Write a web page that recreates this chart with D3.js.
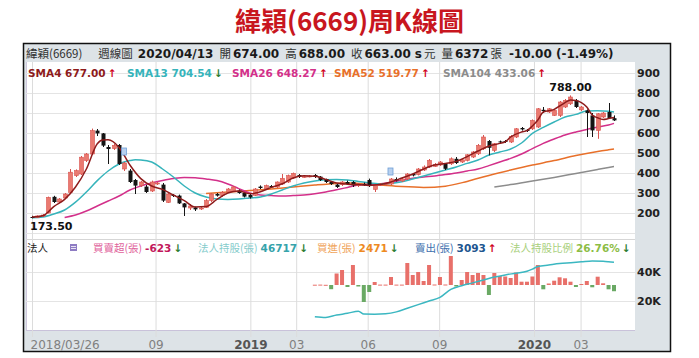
<!DOCTYPE html>
<html>
<head>
<meta charset="utf-8">
<script src="https://cdn.jsdelivr.net/npm/d3@7"></script>
<style>
  body { margin: 0; background: #fff; }
  svg { display: block; }
</style>
</head>
<body>
<div class="container"></div>
<script>
// Size of frame
const width = 699;
const height = 358;

// Weekly candles, first week 2018/03/26
const startDate = new Date(2018, 2, 26);
const open = [
  180, 178, 185, 200, 281, 255, 275, 303, 387, 395,
  462, 495, 612, 598, 530, 522, 540, 420, 412, 365,
  338, 332, 310, 345, 342, 253, 290, 287, 248, 225,
  228, 220, 228, 262, 295, 287, 305, 308, 312, 300,
  290, 288, 332, 320, 335, 330, 345, 355, 375, 390,
  380, 382, 390, 382, 370, 357, 342, 342, 355, 355,
  338, 345, 365, 318, 338, 342, 345, 370, 360, 370,
  395, 392, 415, 430, 433, 440, 446, 446, 471, 455,
  463, 480, 496, 521, 560, 513, 558, 560, 555, 580,
  625, 616, 621, 630, 716, 705, 688, 688, 730, 746,
  763, 716, 713, 688, 613, 680, 705, 674
];
const high = [
  186, 188, 195, 282, 286, 275, 300, 420, 418, 485,
  500, 622, 620, 600, 540, 545, 545, 455, 420, 370,
  360, 340, 362, 355, 350, 300, 295, 292, 250, 245,
  232, 235, 270, 300, 300, 310, 325, 335, 318, 305,
  295, 325, 338, 342, 340, 358, 395, 392, 402, 395,
  388, 390, 395, 385, 372, 360, 345, 360, 362, 360,
  350, 352, 372, 345, 350, 350, 375, 378, 378, 400,
  400, 425, 438, 470, 450, 460, 450, 478, 480, 470,
  495, 510, 545, 590, 565, 550, 562, 565, 590, 625,
  630, 620, 668, 725, 730, 725, 718, 760, 770, 788,
  770, 735, 718, 700, 700, 705, 750, 688
];
const low = [
  173.5, 175, 180, 198, 250, 250, 270, 300, 380, 390,
  455, 490, 585, 530, 445, 515, 440, 410, 350, 295,
  330, 300, 305, 340, 255, 250, 280, 245, 185, 215,
  210, 215, 225, 255, 282, 280, 300, 305, 296, 278,
  272, 285, 320, 318, 325, 325, 340, 350, 370, 375,
  376, 378, 375, 360, 350, 340, 325, 335, 340, 330,
  330, 335, 330, 305, 335, 336, 340, 358, 355, 365,
  383, 388, 410, 425, 430, 435, 415, 440, 445, 450,
  458, 475, 490, 515, 488, 505, 545, 550, 550, 575,
  612, 605, 615, 625, 700, 700, 685, 680, 725, 740,
  725, 710, 580, 580, 571, 675, 670, 660
];
const close = [
  178, 185, 190, 278, 255, 270, 295, 404, 412, 479,
  495, 612, 598, 537, 520, 538, 445, 450, 355, 337,
  355, 305, 355, 350, 262, 295, 285, 248, 228, 235,
  218, 225, 262, 295, 287, 303, 320, 330, 300, 282,
  278, 320, 325, 337, 328, 355, 373, 387, 398, 380,
  383, 385, 380, 365, 355, 345, 330, 355, 345, 338,
  345, 340, 335, 340, 345, 348, 370, 362, 370, 395,
  388, 420, 430, 463, 443, 455, 421, 471, 450, 466,
  491, 505, 538, 580, 526, 546, 553, 556, 583, 621,
  618, 610, 663, 721, 710, 721, 713, 755, 763, 780,
  730, 730, 700, 613, 696, 700, 673, 663
];
const lastVolume = 6372;

// Moving averages: [week, value]
const sma4 = [
  [0, 180], [2, 186], [4, 232], [6, 268], [8, 330], [10, 420], [12, 546], [13, 565],
  [14, 566], [16, 528], [18, 440], [20, 372], [22, 335], [24, 318], [26, 290], [28, 262],
  [30, 230], [32, 232], [34, 268], [36, 300], [38, 310], [40, 296], [42, 306], [44, 328],
  [46, 346], [48, 375], [50, 386], [52, 384], [54, 368], [56, 350], [58, 344], [60, 342],
  [62, 338], [64, 342], [66, 355], [68, 375], [70, 395], [72, 420], [74, 440], [76, 448],
  [78, 458], [80, 482], [82, 510], [84, 535], [86, 548], [87, 556], [88, 580], [90, 605],
  [91, 612], [92, 635], [93, 665], [94, 705], [96, 718], [97, 735], [98, 752], [99, 765],
  [100, 762], [101, 752], [102, 730], [103, 690], [104, 676], [105, 668], [106, 672], [107, 677.00]
];
const sma13 = [
  [0, 176], [2, 180], [4, 195], [6, 215], [8, 254], [10, 305], [12, 362], [14, 410],
  [16, 445], [18, 462], [19, 466], [20, 465], [22, 455], [24, 420], [26, 380], [28, 335],
  [30, 300], [32, 280], [34, 270], [36, 268], [38, 270], [40, 275], [42, 280], [44, 295],
  [46, 315], [48, 335], [50, 350], [52, 360], [54, 366], [56, 368], [58, 365], [60, 358],
  [62, 350], [64, 346], [66, 348], [68, 356], [70, 370], [72, 385], [74, 400], [76, 415],
  [78, 430], [80, 448], [82, 465], [84, 490], [86, 505], [88, 520], [90, 550], [92, 598],
  [94, 628], [96, 655], [98, 680], [100, 693], [102, 710], [104, 711], [106, 709], [107, 704.54]
];
const sma26 = [
  [6, 178], [8, 190], [10, 210], [12, 235], [14, 260], [16, 285], [18, 315], [20, 335],
  [22, 350], [24, 362], [26, 372], [28, 378], [30, 376], [32, 370], [34, 362], [36, 345],
  [38, 322], [40, 300], [42, 290], [44, 287], [46, 285], [48, 287], [50, 290], [52, 296],
  [54, 305], [56, 316], [58, 328], [60, 340], [62, 343], [64, 346], [66, 352], [68, 365],
  [70, 374], [72, 380], [74, 385], [76, 392], [78, 400], [80, 410], [82, 420], [84, 437],
  [86, 455], [88, 473], [90, 495], [92, 522], [94, 548], [96, 570], [98, 590], [100, 605],
  [102, 618], [104, 630], [106, 640], [107, 648.27]
];
const sma52 = [
  [32, 298], [36, 305], [40, 312], [44, 320], [48, 330], [52, 340], [56, 348], [58, 350],
  [60, 348], [64, 340], [68, 332], [72, 328], [76, 334], [80, 358], [84, 388], [88, 415],
  [92, 440], [96, 462], [100, 488], [104, 508], [106, 516], [107, 519.77]
];
const sma104 = [
  [85, 330], [88, 342], [92, 360], [96, 378], [100, 398], [104, 418], [106, 428], [107, 433.06]
];
const smaNames = ['SMA4', 'SMA13', 'SMA26', 'SMA52', 'SMA104'];

// Event markers on the price panel
const markerWeeks = [17, 66];
const markerPrices = [505, 405];

// Institutional investors (from week 52)
const netFirstWeek = 52;
const netBuy = [
  30, 40, 20, -420, 1150, 1500, -200, 2000, -150, -1700,
  -700, 300, 40, 40, 800, 40, 40, 2200, 1000, 1300,
  400, 2000, 50, 800, 50, 2900, -150, 500, 1300, 1000,
  1200, 1000, -1000, 1200, 900, 850, 700, 1250, 330, 330,
  850, 2000, -430, 150, 430, 770, 670, 330, -200, 100,
  400, -230, 830, 170, -430, -623
];
const holdings = [
  [52, 9200], [54, 8700], [56, 10300], [58, 11500], [60, 13000], [61, 11000], [63, 10900],
  [65, 11200], [67, 12500], [69, 15000], [71, 17500], [73, 20000], [75, 22500], [77, 28000],
  [79, 30500], [81, 32500], [83, 34500], [85, 36500], [87, 38000], [89, 39200], [91, 40500],
  [92, 42000], [93, 43800], [95, 44800], [97, 45800], [99, 46400], [101, 47000], [103, 47600],
  [105, 47400], [106, 47100], [107, 46717]
];
const buyQty = 2471;
const sellQty = 3093;
const holdRatio = 26.76;

// Axis ticks
const priceTicks = [100, 200, 300, 400, 500, 600, 700, 800, 900];
const lowerTicks = [20000, 40000];
const lowerLabels = ['20K', '40K'];
const tickDates = [
  new Date(2018, 2, 26), new Date(2018, 8, 1), new Date(2019, 0, 1), new Date(2019, 2, 1),
  new Date(2019, 5, 1), new Date(2019, 8, 1), new Date(2020, 0, 1), new Date(2020, 2, 1)
];
const tickLabels = ['2018/03/26', '09', '2019', '03', '06', '09', '2020', '03'];

// Colours
const upColor = '#ea7a70';
const upStroke = '#d9534f';
const downColor = '#141414';
const smaColors = ['#8e1b1b', '#36b4bb', '#d3308a', '#e8702a', '#8c8c8c'];
const numFont = '"DejaVu Sans", Verdana, sans-serif';
const cjkFont = '"Noto Sans CJK TC", "Noto Sans CJK SC", sans-serif';

const n = close.length - 1;
const weeks = open.map((d, i) => d3.timeDay.offset(startDate, i * 7));
const fmt = v => v.toFixed(2);

const x = d3.scaleTime().domain([weeks[0], weeks[n]]).range([32, 614]);
const yPrice = d3.scaleLinear().domain([100, 900]).range([233, 73]);
const yHold = d3.scaleLinear().domain([0, 40000]).range([330, 272]);
const yNet = d3.scaleLinear().domain([0, 1000]).range([285, 275]);

function arrow(cur, prev) {
  return cur >= prev ? { t: '↑', c: '#d0021b' } : { t: '↓', c: '#2e7d32' };
}

function draw() {
  const svg = d3.select('.container')
    .append('svg')
    .attr('width', width)
    .attr('height', height);

  // Title
  svg.append('text')
    .attr('x', width / 2)
    .attr('y', 31)
    .attr('text-anchor', 'middle')
    .attr('font-family', cjkFont)
    .attr('font-weight', 700)
    .attr('font-size', 26)
    .attr('fill', '#c8161e')
    .text('緯穎(6669)周K線圖');

  // Frame and plot area
  svg.append('rect')
    .attr('x', 23.5).attr('y', 43.5)
    .attr('width', 647).attr('height', 308)
    .attr('fill', '#dde3e7')
    .attr('stroke', '#111')
    .attr('stroke-width', 1.5);
  svg.append('rect')
    .attr('x', 26).attr('y', 62)
    .attr('width', 609).attr('height', 268)
    .attr('fill', '#fff');
  svg.append('line')
    .attr('x1', 26.5).attr('x2', 26.5).attr('y1', 62).attr('y2', 330)
    .attr('stroke', '#cfc8de');
  svg.append('line')
    .attr('x1', 26).attr('x2', 635).attr('y1', 330.5).attr('y2', 330.5)
    .attr('stroke', '#c9c2da');
  svg.append('line')
    .attr('x1', 26).attr('x2', 635).attr('y1', 239.5).attr('y2', 239.5)
    .attr('stroke', '#d6d6d6');

  // Horizontal grid
  svg.append('g')
    .selectAll('line')
    .data(priceTicks)
    .enter()
    .append('line')
    .attr('x1', 26).attr('x2', 635)
    .attr('y1', d => Math.round(yPrice(d)) + 0.5)
    .attr('y2', d => Math.round(yPrice(d)) + 0.5)
    .attr('stroke', '#e4e4e4');
  svg.append('g')
    .selectAll('line')
    .data(lowerTicks)
    .enter()
    .append('line')
    .attr('x1', 26).attr('x2', 635)
    .attr('y1', d => Math.round(yHold(d)) + 0.5)
    .attr('y2', d => Math.round(yHold(d)) + 0.5)
    .attr('stroke', '#e4e4e4');

  // Time axis with vertical grid
  const xAxis = d3.axisBottom(x)
    .tickValues(tickDates)
    .tickSizeInner(-275)
    .tickSizeOuter(0)
    .tickPadding(3)
    .tickFormat((d, i) => tickLabels[i]);
  const gx = svg.append('g')
    .attr('transform', 'translate(0,337)')
    .call(xAxis);
  gx.select('.domain').remove();
  gx.selectAll('.tick line').attr('stroke', '#dcdcdc');
  gx.selectAll('.tick text')
    .attr('font-family', numFont)
    .attr('font-size', 12)
    .attr('fill', (d, i) => (i === 2 || i === 6) ? '#555' : '#808080')
    .attr('font-weight', (d, i) => (i === 2 || i === 6) ? 700 : 400)
    .attr('text-anchor', (d, i) => i === 0 ? 'start' : 'middle')
    .attr('dx', (d, i) => i === 0 ? -2 : 0);

  // Right axes
  svg.append('g')
    .selectAll('text')
    .data(priceTicks.filter(d => d >= 200))
    .enter()
    .append('text')
    .attr('x', 637)
    .attr('y', d => yPrice(d) + 4)
    .attr('font-family', numFont)
    .attr('font-weight', 700)
    .attr('font-size', 11)
    .attr('fill', '#222')
    .text(d => d);
  svg.append('g')
    .selectAll('text')
    .data(lowerTicks)
    .enter()
    .append('text')
    .attr('x', 637)
    .attr('y', d => yHold(d) + 4)
    .attr('font-family', numFont)
    .attr('font-weight', 700)
    .attr('font-size', 11)
    .attr('fill', '#222')
    .text((d, i) => lowerLabels[i]);

  // Net buy bars
  svg.append('g')
    .selectAll('rect')
    .data(netBuy)
    .enter()
    .append('rect')
    .attr('x', (d, i) => x(weeks[i + netFirstWeek]) - 2)
    .attr('width', 4)
    .attr('y', d => yNet(Math.max(0, d)))
    .attr('height', d => Math.max(1, Math.abs(yNet(d) - yNet(0))))
    .attr('fill', d => d >= 0 ? '#e8706a' : '#6aa964');

  // Holdings line
  const holdLine = d3.line()
    .x(d => x(weeks[d[0]]))
    .y(d => yHold(d[1]))
    .curve(d3.curveMonotoneX);
  svg.append('path')
    .attr('d', holdLine(holdings))
    .attr('fill', 'none')
    .attr('stroke', '#3bb7c1')
    .attr('stroke-width', 1.5);

  // Moving averages (slow ones under candles)
  const smaLine = d3.line()
    .x(d => x(weeks[d[0]]))
    .y(d => yPrice(d[1]))
    .curve(d3.curveMonotoneX);
  const smas = [sma4, sma13, sma26, sma52, sma104];
  [4, 3, 2, 1].forEach(k => {
    svg.append('path')
      .attr('d', smaLine(smas[k]))
      .attr('fill', 'none')
      .attr('stroke', smaColors[k])
      .attr('stroke-width', 1.5);
  });

  // Candles
  const candles = svg.append('g')
    .selectAll('g')
    .data(weeks)
    .enter()
    .append('g');
  candles.append('line')
    .attr('x1', d => Math.round(x(d)) + 0.5)
    .attr('x2', d => Math.round(x(d)) + 0.5)
    .attr('y1', (d, i) => yPrice(high[i]))
    .attr('y2', (d, i) => yPrice(low[i]))
    .attr('stroke', (d, i) => close[i] >= open[i] ? upStroke : downColor);
  candles.append('rect')
    .attr('x', d => Math.round(x(d)) - 1.5)
    .attr('width', 4)
    .attr('y', (d, i) => yPrice(Math.max(open[i], close[i])))
    .attr('height', (d, i) => Math.max(1, Math.abs(yPrice(open[i]) - yPrice(close[i]))))
    .attr('fill', (d, i) => close[i] >= open[i] ? upColor : downColor)
    .attr('stroke', (d, i) => close[i] >= open[i] ? upStroke : 'none')
    .attr('stroke-width', 0.6);

  // Fast average on top
  svg.append('path')
    .attr('d', smaLine(sma4))
    .attr('fill', 'none')
    .attr('stroke', smaColors[0])
    .attr('stroke-width', 1.5);

  // Event markers
  svg.append('g')
    .selectAll('rect')
    .data(markerWeeks)
    .enter()
    .append('rect')
    .attr('x', d => x(weeks[d]) - 3)
    .attr('y', (d, i) => yPrice(markerPrices[i]) - 4)
    .attr('width', 5)
    .attr('height', 7)
    .attr('fill', '#b7d0ef')
    .attr('stroke', '#6f9fd6')
    .attr('stroke-width', 0.8);

  // High / low labels
  const hi = d3.maxIndex(high);
  const lo = d3.minIndex(low);
  svg.append('text')
    .attr('x', x(weeks[hi]))
    .attr('y', yPrice(high[hi]) - 4)
    .attr('text-anchor', 'middle')
    .attr('font-family', numFont)
    .attr('font-weight', 700)
    .attr('font-size', 11)
    .attr('fill', '#111')
    .text(fmt(high[hi]));
  svg.append('text')
    .attr('x', x(weeks[lo]) - 2)
    .attr('y', yPrice(low[lo]) + 12)
    .attr('font-family', numFont)
    .attr('font-weight', 700)
    .attr('font-size', 11)
    .attr('fill', '#111')
    .text(fmt(low[lo]));

  // Header row
  const chg = close[n] - close[n - 1];
  const pct = chg / close[n - 1] * 100;
  const headParts = [
    ['緯穎(6669)', 'c', 0],
    ['週線圖', 'c', 16],
    [d3.timeFormat('%Y/%m/%d')(weeks[n]), 'b', 5],
    ['開', 'c', 6], [fmt(open[n]), 'b', 2],
    ['高', 'c', 6], [fmt(high[n]), 'b', 2],
    ['收', 'c', 6], [fmt(close[n]), 'b', 2],
    ['s', 'b', 4], ['元', 'c', 2],
    ['量', 'c', 6], [String(lastVolume), 'b', 2], ['張', 'c', 2],
    [`${fmt(chg)} (${fmt(pct)}%)`, 'b', 7]
  ];
  const head = svg.append('text')
    .attr('x', 26)
    .attr('y', 58)
    .attr('fill', '#222');
  head.selectAll('tspan')
    .data(headParts)
    .enter()
    .append('tspan')
    .attr('dx', d => d[2])
    .attr('font-family', d => d[1] === 'b' ? numFont : cjkFont)
    .attr('font-weight', d => d[1] === 'b' ? 700 : 400)
    .attr('font-size', d => d[1] === 'b' ? 12 : 11.5)
    .attr('fill', d => d[1] === 'b' ? '#1a1a1a' : '#333')
    .text(d => d[0]);

  // SMA legend
  const smaX = [28, 127, 232, 334, 443];
  smas.forEach((s, k) => {
    const cur = s[s.length - 1][1];
    const prev = s[s.length - 2][1];
    const a = arrow(cur, prev);
    const t = svg.append('text')
      .attr('x', smaX[k])
      .attr('y', 77)
      .attr('font-family', numFont)
      .attr('font-weight', 700)
      .attr('font-size', 10.5);
    t.append('tspan').attr('fill', smaColors[k]).text(`${smaNames[k]} ${fmt(cur)}`);
    t.append('tspan').attr('dx', 2).attr('fill', a.c).text(a.t);
  });

  // Lower legend
  const holdCur = holdings[holdings.length - 1][1];
  const holdPrev = holdings[holdings.length - 2][1];
  const lower = [
    { x: 27, label: '法人', lc: '#222' },
    { x: 93, label: '買賣超(張)', lc: '#e0609a', v: String(netBuy[netBuy.length - 1]), vc: '#c2185b', a: arrow(netBuy[netBuy.length - 1], netBuy[netBuy.length - 2]) },
    { x: 198, label: '法人持股(張)', lc: '#86cccc', v: String(holdCur), vc: '#36a3ab', a: arrow(holdCur, holdPrev) },
    { x: 317, label: '買進(張)', lc: '#f0a45a', v: String(buyQty), vc: '#ee8a22', a: { t: '↓', c: '#2e7d32' } },
    { x: 415, label: '賣出(張)', lc: '#3d6fae', v: String(sellQty), vc: '#21558f', a: { t: '↑', c: '#d0021b' } },
    { x: 510, label: '法人持股比例', lc: '#a9d07c', v: `${fmt(holdRatio)}%`, vc: '#8dbd45', a: { t: '↓', c: '#2e7d32' } }
  ];
  lower.forEach(d => {
    const t = svg.append('text').attr('x', d.x).attr('y', 252).attr('font-size', 10.5);
    t.append('tspan').attr('font-family', cjkFont).attr('fill', d.lc).text(d.label);
    if (d.v) {
      t.append('tspan').attr('dx', 3).attr('font-family', numFont).attr('font-weight', 700)
        .attr('fill', d.vc).text(d.v);
      t.append('tspan').attr('dx', 2).attr('font-family', numFont).attr('font-weight', 700)
        .attr('fill', d.a.c).text(d.a.t);
    }
  });
  // small legend icon
  svg.append('rect')
    .attr('x', 70).attr('y', 244).attr('width', 7).attr('height', 7)
    .attr('fill', '#8e7cc3');
  svg.append('path')
    .attr('d', 'M71,246.5H76M71,248.5H76')
    .attr('stroke', '#fff')
    .attr('stroke-width', 0.8);
}

draw();
</script>
</body>
</html>
